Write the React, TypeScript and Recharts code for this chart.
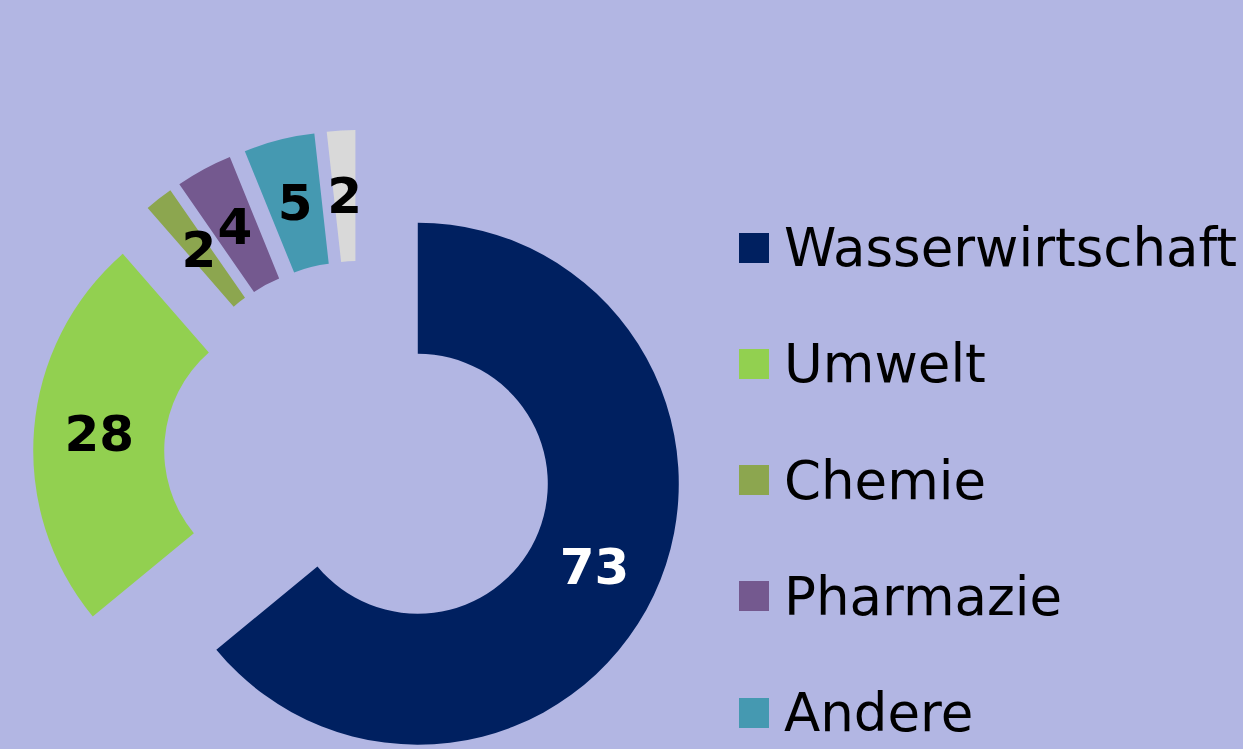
import React from "react";
import { PieChart, Pie, Cell, Legend } from "recharts";

// Werte
const categories = ["Wasserwirtschaft", "Umwelt", "Chemie", "Pharmazie", "Andere", "Sonstige"];
const values = [73, 28, 2, 4, 5, 2];

const colors = ["#002060", "#92D050", "#8CA64F", "#74598F", "#4599B1", "#D9D9D9"];
const labelColors = ["#FFFFFF", "#000000", "#000000", "#000000", "#000000", "#000000"];

const data = categories.map((name, i) => ({ name, value: values[i] }));

// Mittelpunkt des Rings und Abstand der herausgezogenen Segmente
const CENTER_X = 359;
const CENTER_Y = 456;
const EXPLODE = 65;
const INNER = 130;
const OUTER = 261;
const RAD = Math.PI / 180;

const total = values.reduce((a, b) => a + b, 0);
const offsets = values.map((v, i) => {
  const before = values.slice(0, i).reduce((a, b) => a + b, 0);
  const mid = ((before + v / 2) / total) * 360; // im Uhrzeigersinn ab 12 Uhr
  return {
    cx: CENTER_X + EXPLODE * Math.sin(mid * RAD),
    cy: CENTER_Y - EXPLODE * Math.cos(mid * RAD),
  };
});

const renderLabel = (k: number) => (props: any) => {
  const { cx, cy, midAngle, innerRadius, outerRadius, index } = props;
  if (index !== k) return null;
  const r = (innerRadius + outerRadius) / 2;
  const x = cx + r * Math.cos(-midAngle * RAD);
  const y = cy + r * Math.sin(-midAngle * RAD);
  return (
    <text
      x={x}
      y={y}
      fill={labelColors[k]}
      textAnchor="middle"
      dominantBaseline="central"
      fontFamily="DejaVu Sans"
      fontWeight="bold"
      fontSize={50}
    >
      {values[k]}
    </text>
  );
};

const renderLegend = () => (
  <div>
    {categories.map((name, i) => (
      <div
        key={name}
        style={{ display: "flex", alignItems: "center", height: 116.25 }}
      >
        <div style={{ width: 30, height: 30, background: colors[i], marginRight: 15, flexShrink: 0 }} />
        <span
          style={{
            fontFamily: "DejaVu Sans",
            fontSize: 53,
            color: "#000",
            whiteSpace: "nowrap",
            lineHeight: "normal",
          }}
        >
          {name}
        </span>
      </div>
    ))}
  </div>
);

export default function App() {
  return (
    <div
      style={{
        position: "fixed",
        left: 0,
        top: 0,
        width: 1243,
        height: 749,
        background: "#B2B6E3",
        overflow: "hidden",
      }}
    >
      <PieChart width={1243} height={749} margin={{ top: 0, right: 0, bottom: 0, left: 0 }}>
        {offsets.map((o, k) => (
          <Pie
            key={k}
            data={data}
            dataKey="value"
            nameKey="name"
            cx={o.cx}
            cy={o.cy}
            innerRadius={INNER}
            outerRadius={OUTER}
            startAngle={90}
            endAngle={-270}
            stroke="none"
            isAnimationActive={false}
            labelLine={false}
            label={renderLabel(k)}
            legendType="none"
          >
            {data.map((d, i) => (
              <Cell key={d.name} fill={i === k ? colors[i] : "none"} stroke="none" />
            ))}
          </Pie>
        ))}
        <Legend
          layout="vertical"
          align="right"
          verticalAlign="top"
          content={renderLegend}
          wrapperStyle={{ left: 739, top: 189.4, width: 504, right: "auto" }}
        />
      </PieChart>
    </div>
  );
}
